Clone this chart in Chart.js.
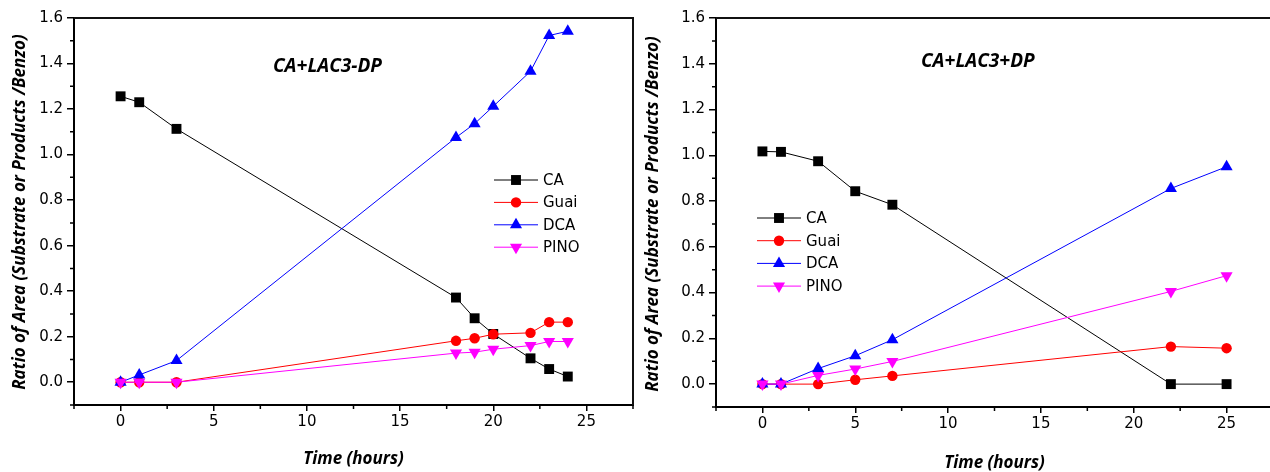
<!doctype html>
<html lang="en">
<head>
<meta charset="utf-8">
<title>Ratio of Area vs Time</title>
<script src="https://cdn.jsdelivr.net/npm/chart.js@4"></script>
<style>
  html, body { margin: 0; padding: 0; background: #fff; overflow: hidden; }
  #wrap { position: relative; width: 1270px; height: 472px; overflow: hidden; }
  .panel { position: absolute; top: 0; width: 640px; height: 472px; }
</style>
</head>
<body>
<div id="wrap">
  <div class="panel" style="left:0"><canvas id="chartA" width="640" height="472"></canvas></div>
  <div class="panel" style="left:640px"><canvas id="chartB" width="640" height="472"></canvas></div>
</div>

<script>
// CA + LAC3 - DP
const hoursA = [0, 1, 3, 18, 19, 20, 22, 23, 24]
const caA   = [1.256, 1.230, 1.113, 0.372, 0.281, 0.212, 0.105, 0.058, 0.025]
const guaiA = [0, 0, 0, 0.182, 0.193, 0.211, 0.217, 0.264, 0.264]
const dcaA  = [0, 0.032, 0.095, 1.075, 1.136, 1.212, 1.366, 1.523, 1.542]
const pinoA = [0, 0, 0, 0.128, 0.132, 0.145, 0.161, 0.179, 0.179]

// CA + LAC3 + DP
const hoursB = [0, 1, 3, 5, 7, 22, 25]
const caB   = [1.017, 1.015, 0.974, 0.843, 0.784, 0, 0]
const guaiB = [0, 0, 0, 0.019, 0.036, 0.164, 0.157]
const dcaB  = [0, 0, 0.068, 0.124, 0.194, 0.855, 0.950]
const pinoB = [0, 0, 0.038, 0.066, 0.099, 0.405, 0.474]

const seriesNames = ['CA', 'Guai', 'DCA', 'PINO']
const xTickLabels = [0, 5, 10, 15, 20, 25]
const yTickLabels = [0.0, 0.2, 0.4, 0.6, 0.8, 1.0, 1.2, 1.4, 1.6]

const FONT = 'DejaVu Sans'
const TITLE_FONT = 'bold italic 17px "Open Sans"'

const styles = [
  { color: '#000000', pointStyle: 'rect', pointRadius: 7, rotation: 0 },
  { color: '#ff0000', pointStyle: 'circle', pointRadius: 5.2, rotation: 0 },
  { color: '#0000ff', pointStyle: 'triangle', pointRadius: 7, rotation: 0 },
  { color: '#ff00ff', pointStyle: 'triangle', pointRadius: 7, rotation: 180 },
]

function makeDatasets(hours, series) {
  return series.map((vals, i) => ({
    label: seriesNames[i],
    data: hours.map((h, j) => ({ x: h, y: vals[j] })),
    borderColor: styles[i].color,
    backgroundColor: styles[i].color,
    borderWidth: 1,
    pointStyle: styles[i].pointStyle,
    pointRadius: styles[i].pointRadius,
    pointRotation: styles[i].rotation,
    pointBorderWidth: 0,
    tension: 0,
    order: 3 - i,
  }))
}

const isLabelled = (list, v) => list.some(t => Math.abs(t - v) < 1e-6)

// frame, minor ticks, legend, and the free text
const decorPlugin = {
  id: 'decor',
  afterDraw(chart, args, opts) {
    const { ctx, chartArea: a, scales } = chart
    ctx.save()

    // top / right frame
    ctx.strokeStyle = '#111'
    ctx.lineWidth = 2
    ctx.beginPath()
    ctx.moveTo(a.left, a.top)
    ctx.lineTo(a.right, a.top)
    if (opts.rightFrame) ctx.lineTo(a.right, a.bottom + 1)
    ctx.stroke()

    // minor ticks
    ctx.lineWidth = 1.5
    ctx.strokeStyle = '#000'
    ctx.beginPath()
    scales.x.ticks.forEach(t => {
      if (isLabelled(xTickLabels, t.value)) return
      const px = scales.x.getPixelForValue(t.value)
      ctx.moveTo(px, a.bottom)
      ctx.lineTo(px, a.bottom + 4)
    })
    scales.y.ticks.forEach(t => {
      if (isLabelled(yTickLabels, t.value)) return
      const py = scales.y.getPixelForValue(t.value)
      ctx.moveTo(a.left, py)
      ctx.lineTo(a.left - 4, py)
    })
    ctx.stroke()

    // legend
    const lg = opts.legend
    chart.data.datasets.forEach((ds, i) => {
      const y = lg.y + i * lg.step
      ctx.strokeStyle = ds.borderColor
      ctx.lineWidth = 1
      ctx.beginPath()
      ctx.moveTo(lg.x, y)
      ctx.lineTo(lg.x + 44, y)
      ctx.stroke()
      ctx.fillStyle = ds.backgroundColor
      Chart.helpers.drawPoint(ctx, {
        pointStyle: ds.pointStyle,
        radius: ds.pointRadius,
        rotation: ds.pointRotation,
        borderWidth: 0,
      }, lg.x + 22, y)
      ctx.fillStyle = '#000'
      ctx.font = '15px "' + FONT + '"'
      ctx.textAlign = 'left'
      ctx.textBaseline = 'middle'
      ctx.fillText(ds.label, lg.x + 49, y + 1)
    })

    // panel label
    ctx.fillStyle = '#000'
    ctx.font = 'bold italic 19px "Open Sans"'
    ctx.textAlign = 'center'
    ctx.textBaseline = 'middle'
    ctx.fillText(opts.label, scales.x.getPixelForValue(opts.labelAt[0]), scales.y.getPixelForValue(opts.labelAt[1]))

    // axis titles
    ctx.font = TITLE_FONT
    ctx.fillText('Time (hours)', (a.left + a.right) / 2, opts.xTitleY)
    ctx.translate(opts.yTitleX, opts.yTitleY)
    ctx.rotate(-Math.PI / 2)
    ctx.fillText('Ratio of Area (Substrate or Products /Benzo)', 0, 0)

    ctx.restore()
  }
}

function makeChart(id, hours, series, cfg) {
  return new Chart(document.getElementById(id), {
    type: 'line',
    data: { datasets: makeDatasets(hours, series) },
    options: {
      responsive: false,
      animation: false,
      layout: { padding: { top: 18, right: cfg.padRight, left: 0, bottom: 0 } },
      plugins: {
        legend: { display: false },
        tooltip: { enabled: false },
        decor: cfg.decor,
      },
      scales: {
        x: {
          type: 'linear',
          min: -2.5,
          max: 27.5,
          afterFit: s => { s.height = cfg.xHeight },
          border: { display: true, width: 2, color: '#000' },
          grid: {
            drawOnChartArea: false,
            drawTicks: true,
            tickLength: 6,
            lineWidth: 1.5,
            tickColor: c => isLabelled(xTickLabels, c.tick.value) ? '#000' : 'rgba(0,0,0,0)',
          },
          ticks: {
            stepSize: 2.5,
            autoSkip: false,
            maxRotation: 0,
            padding: 2,
            color: '#000',
            font: { family: FONT, size: 15 },
            callback: v => isLabelled(xTickLabels, v) ? String(Math.round(v)) : '',
          },
        },
        y: {
          type: 'linear',
          min: -0.1,
          max: 1.6,
          afterFit: s => { s.width = cfg.yWidth },
          border: { display: true, width: 2, color: '#000' },
          grid: {
            drawOnChartArea: false,
            drawTicks: true,
            tickLength: 7,
            lineWidth: 1.5,
            tickColor: c => isLabelled(yTickLabels, c.tick.value) ? '#000' : 'rgba(0,0,0,0)',
          },
          ticks: {
            stepSize: 0.1,
            autoSkip: false,
            padding: 4,
            color: '#000',
            font: { family: FONT, size: 15 },
            callback: v => isLabelled(yTickLabels, v) ? v.toFixed(1) : '',
          },
        },
      },
    },
    plugins: [decorPlugin],
  })
}

makeChart('chartA', hoursA, [caA, guaiA, dcaA, pinoA], {
  padRight: 6, xHeight: 67, yWidth: 74,
  decor: {
    rightFrame: true,
    legend: { x: 494, y: 180, step: 22.4 },
    label: 'CA+LAC3-DP', labelAt: [11.1, 1.385],
    xTitleY: 459, yTitleX: 20, yTitleY: 212,
  },
})

makeChart('chartB', hoursB, [caB, guaiB, dcaB, pinoB], {
  padRight: 1, xHeight: 65, yWidth: 76,
  decor: {
    rightFrame: false,
    legend: { x: 117, y: 218, step: 22.7 },
    label: 'CA+LAC3+DP', labelAt: [11.6, 1.41],
    xTitleY: 463, yTitleX: 13, yTitleY: 214,
  },
})
</script>
</body>
</html>
